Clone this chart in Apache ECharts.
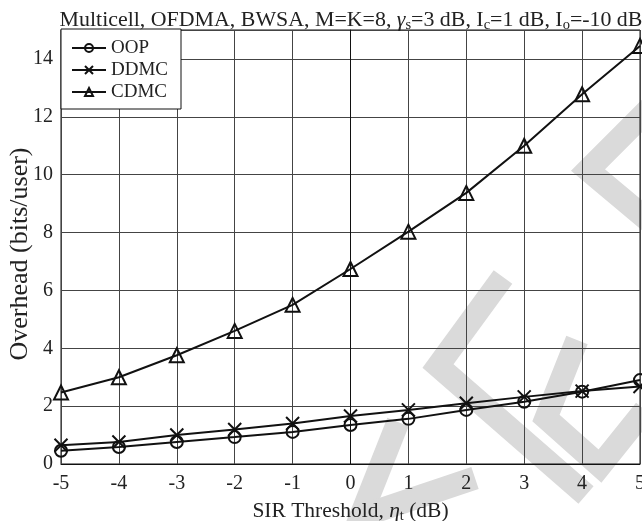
<!DOCTYPE html>
<html>
<head>
<meta charset="utf-8">
<script src="https://cdn.jsdelivr.net/npm/echarts@6/dist/echarts.min.js"></script>
<style>html,body{margin:0;padding:0;background:#fff;}#c{width:642px;height:521px;}</style>
</head>
<body>
<div id="c"></div>
<script>
// ---- data ----
var sirThreshold = [-5, -4, -3, -2, -1, 0, 1, 2, 3, 4, 5];
var oop  = [0.46, 0.59, 0.76, 0.93, 1.11, 1.35, 1.56, 1.87, 2.15, 2.50, 2.90];
var ddmc = [0.65, 0.76, 1.00, 1.19, 1.40, 1.66, 1.87, 2.10, 2.32, 2.52, 2.68];
var cdmc = [2.47, 3.00, 3.76, 4.60, 5.50, 6.74, 8.03, 9.37, 11.00, 12.78, 14.45];
var seriesNames = ['OOP', 'DDMC', 'CDMC'];

function pairs(arr) { return sirThreshold.map(function (x, i) { return [x, arr[i]]; }); }

var FONT = 'Liberation Serif';
var crossPath = 'path://M0,0L10,10M10,0L0,10';

function mk(name, data, symbol, size) {
  return {
    name: name, type: 'line', data: pairs(data),
    symbol: symbol, symbolSize: size,
    lineStyle: { color: '#111', width: 2 },
    itemStyle: { color: 'rgba(0,0,0,0)', borderColor: '#111', borderWidth: 2 },
    emphasis: { disabled: true },
    z: 5
  };
}

var wm = '#dadada';
function band(points) {
  return { type: 'polyline', z: -10, silent: true,
    shape: { points: points },
    style: { stroke: wm, lineWidth: 23, fill: null, lineJoin: 'miter' } };
}

var chart = echarts.init(document.getElementById('c'), null, { renderer: 'canvas' });
chart.setOption({
  animation: false,
  backgroundColor: '#fff',
  graphic: { elements: [
    band([[650, 108], [588, 170], [650, 222]]),
    band([[503, 277], [438, 366], [586, 495]]),
    band([[577, 340], [546, 418], [600, 466], [645, 410]]),
    band([[398, 422], [356, 528]]),
    band([[362, 516], [475, 478]])
  ]},
  title: {
    left: 346, top: 3, textAlign: 'center',
    text: '{n|Multicell, OFDMA, BWSA, M=K=8, }{g|γ}{s|s}{n|=3 dB, I}{s|c}{n|=1 dB, I}{s|o}{n|=-10 dB}',
    textStyle: {
      fontWeight: 'normal',
      rich: {
        n: { fontFamily: FONT, fontSize: 21.9, fontWeight: 'normal', color: '#222', lineHeight: 25 },
        g: { fontFamily: FONT, fontSize: 21.9, fontWeight: 'normal', color: '#222', fontStyle: 'italic', lineHeight: 25 },
        s: { fontFamily: FONT, fontSize: 14.5, fontWeight: 'normal', color: '#222', verticalAlign: 'bottom', lineHeight: 13 }
      }
    }
  },
  legend: {
    orient: 'vertical', left: 61, top: 29,
    data: seriesNames,
    backgroundColor: '#fff', borderColor: '#111', borderWidth: 1, borderRadius: 0,
    padding: [8, 13, 6, 10],
    itemWidth: 34, itemHeight: 10, itemGap: 0,
    textStyle: { fontFamily: FONT, fontSize: 19, color: '#222', lineHeight: 22 },
    selectedMode: false
  },
  grid: { left: 61, right: 2, top: 30, bottom: 57, outerBoundsMode: 'none', containLabel: false,
          show: true, borderColor: '#111', borderWidth: 1, backgroundColor: 'transparent' },
  xAxis: {
    type: 'value', min: -5, max: 5, interval: 1,
    name: '{n|SIR Threshold, }{e|η}{s|t}{n| (dB)}', nameLocation: 'middle', nameGap: 35,
    nameMoveOverlap: false,
    nameTextStyle: { rich: {
      n: { fontFamily: FONT, fontSize: 21.5, color: '#222', lineHeight: 25 },
      e: { fontFamily: FONT, fontSize: 21.5, color: '#222', fontStyle: 'italic', lineHeight: 25 },
      s: { fontFamily: FONT, fontSize: 14.5, color: '#222', verticalAlign: 'bottom', lineHeight: 13 }
    }},
    axisLine: { lineStyle: { color: '#111' } },
    axisTick: { show: false },
    axisLabel: { fontFamily: FONT, fontSize: 20, color: '#222', margin: 10 },
    splitLine: { show: true, lineStyle: { color: '#444', width: 1 } }
  },
  yAxis: {
    type: 'value', min: 0, max: 15, interval: 2,
    name: 'Overhead (bits/user)', nameLocation: 'middle', nameGap: 28,
    nameMoveOverlap: false,
    nameTextStyle: { fontFamily: FONT, fontSize: 26, color: '#222', padding: [0, 14, 0, 0] },
    axisLine: { lineStyle: { color: '#111' } },
    axisTick: { show: false },
    axisLabel: { fontFamily: FONT, fontSize: 20, color: '#222', margin: 8, showMaxLabel: false },
    splitLine: { show: true, lineStyle: { color: '#444', width: 1 } }
  },
  series: [
    mk('OOP', oop, 'circle', 12),
    mk('DDMC', ddmc, crossPath, 13),
    mk('CDMC', cdmc, 'triangle', 14)
  ]
});
</script>
</body>
</html>
